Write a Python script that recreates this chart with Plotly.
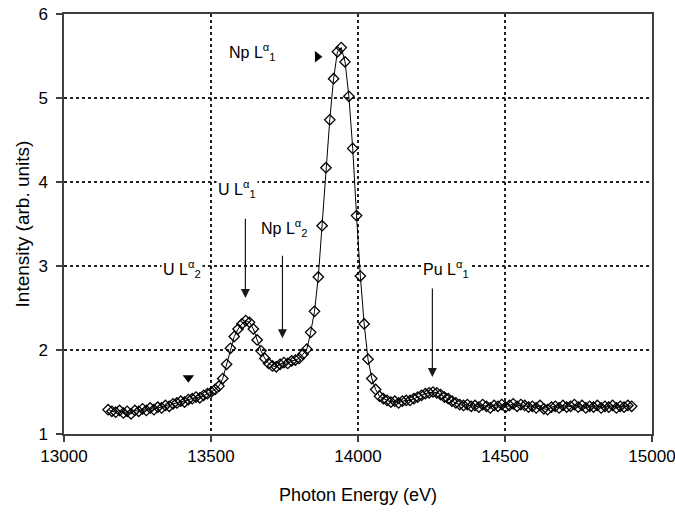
import plotly.graph_objects as go

energy = [13150, 13163, 13176, 13189, 13202, 13215, 13228, 13241, 13254, 13267,
          13280, 13293, 13306, 13319, 13332, 13345, 13358, 13371, 13384, 13397,
          13410, 13423, 13436, 13449, 13462, 13475, 13488, 13501, 13514, 13527,
          13540, 13553, 13566, 13579, 13592, 13605, 13618, 13631, 13644, 13657,
          13670, 13683, 13696, 13709, 13722, 13735, 13748, 13761, 13774, 13787,
          13800, 13813, 13826, 13839, 13852, 13865, 13878, 13891, 13904, 13917,
          13930, 13943, 13956, 13969, 13982, 13995, 14008, 14021, 14034, 14047,
          14060, 14073, 14086, 14099, 14112, 14125, 14138, 14151, 14164, 14177,
          14190, 14203, 14216, 14229, 14242, 14255, 14268, 14281, 14294, 14307,
          14320, 14333, 14346, 14359, 14372, 14385, 14398, 14411, 14424, 14437,
          14450, 14463, 14476, 14489, 14502, 14515, 14528, 14541, 14554, 14567,
          14580, 14593, 14606, 14619, 14632, 14645, 14658, 14671, 14684, 14697,
          14710, 14723, 14736, 14749, 14762, 14775, 14788, 14801, 14814, 14827,
          14840, 14853, 14866, 14879, 14892, 14905, 14918, 14931]

intensity = [1.29, 1.27, 1.26, 1.28, 1.25, 1.27, 1.24, 1.28, 1.27, 1.30,
             1.28, 1.31, 1.29, 1.32, 1.31, 1.34, 1.33, 1.36, 1.37, 1.39,
             1.38, 1.41, 1.42, 1.44, 1.43, 1.46, 1.48, 1.50, 1.53, 1.57,
             1.66, 1.83, 2.02, 2.16, 2.25, 2.31, 2.35, 2.33, 2.25, 2.12,
             1.99, 1.90, 1.84, 1.81, 1.80, 1.83, 1.85, 1.84, 1.87, 1.88,
             1.90, 1.95, 2.01, 2.21, 2.46, 2.87, 3.48, 4.17, 4.74, 5.23,
             5.55, 5.60, 5.43, 5.02, 4.40, 3.60, 2.88, 2.31, 1.89, 1.66,
             1.53, 1.45, 1.42, 1.40, 1.38, 1.39, 1.37, 1.39, 1.40, 1.40,
             1.42, 1.44, 1.46, 1.48, 1.49, 1.50, 1.49, 1.47, 1.44, 1.42,
             1.39, 1.37, 1.35, 1.34, 1.35, 1.33, 1.34, 1.32, 1.35, 1.33,
             1.31, 1.34, 1.33, 1.35, 1.32, 1.34, 1.36, 1.33, 1.35, 1.34,
             1.32, 1.33, 1.31, 1.34, 1.30, 1.29, 1.32, 1.33, 1.31, 1.34,
             1.32, 1.33, 1.35, 1.32, 1.34, 1.31, 1.33, 1.32, 1.34, 1.31,
             1.33, 1.32, 1.34, 1.31, 1.33, 1.32, 1.34, 1.33]

x_ticks = [13000, 13500, 14000, 14500, 15000]
y_ticks = [1, 2, 3, 4, 5, 6]

# Peak labels: text, text position, arrow start / tip (None = no arrow)
label_text = ["Np L<sup>α</sup><sub>1</sub>", "U L<sup>α</sup><sub>1</sub>",
              "Np L<sup>α</sup><sub>2</sub>", "U L<sup>α</sup><sub>2</sub>",
              "Pu L<sup>α</sup><sub>1</sub>"]
label_x = [13640, 13587, 13750, 13400, 14298]
label_y = [5.55, 3.92, 3.45, 2.97, 2.97]
arrow_x = [None, 13617, 13743, None, 14253]
arrow_y0 = [None, 3.58, 3.14, None, 2.75]
arrow_y1 = [None, 2.62, 2.14, None, 1.68]

# Small triangle pointers
tri_x = [13862, 13423]
tri_y = [5.49, 1.67]
tri_symbol = ["triangle-right", "triangle-down"]

FONT = "Liberation Sans, Arial, sans-serif"

fig = go.Figure()
fig.add_trace(go.Scatter(
    x=energy, y=intensity, mode="lines+markers",
    line=dict(color="black", width=1),
    marker=dict(symbol="diamond-open", size=8, color="black", line=dict(width=1.3)),
    showlegend=False, hoverinfo="skip"))

fig.add_trace(go.Scatter(
    x=tri_x, y=tri_y, mode="markers",
    marker=dict(symbol=tri_symbol, size=10, color="black"),
    showlegend=False, hoverinfo="skip"))

annotations = []
for t, lx, ly, axx, y0, y1 in zip(label_text, label_x, label_y, arrow_x, arrow_y0, arrow_y1):
    annotations.append(dict(
        x=lx, y=ly, xref="x", yref="y", text=t, showarrow=False,
        font=dict(family=FONT, size=16, color="black"), bgcolor="white",
        borderpad=1))
    if axx is not None:
        annotations.append(dict(
            x=axx, y=y1, ax=axx, ay=y0, xref="x", yref="y", axref="x", ayref="y",
            text="", showarrow=True, arrowhead=2, arrowsize=1.5, arrowwidth=1.2,
            arrowcolor="#1a1a1a", standoff=0, startstandoff=0))

axis_common = dict(
    showline=True, linecolor="#404040", linewidth=1.5, mirror=True,
    ticks="outside", ticklen=6, tickcolor="#404040", tickwidth=1.5,
    showgrid=True, gridcolor="#222222", gridwidth=1.5, griddash="dot",
    zeroline=False, automargin=False, ticklabeloverflow="allow",
    tickfont=dict(family=FONT, size=17, color="black"))

fig.update_layout(
    width=675, height=514,
    margin=dict(l=64, r=23, t=14, b=80),
    paper_bgcolor="white", plot_bgcolor="white",
    font=dict(family=FONT, color="black"),
    annotations=annotations,
    xaxis=dict(axis_common, range=[13000, 15000], tickvals=x_ticks,
               ticktext=[str(v) for v in x_ticks],
               title=dict(text="Photon Energy (eV)", font=dict(family=FONT, size=18), standoff=23)),
    yaxis=dict(axis_common, range=[1, 6], tickvals=y_ticks, ticklabelstandoff=5,
               title=dict(text="Intensity (arb. units)", font=dict(family=FONT, size=19), standoff=4)),
)

# Remove the default page margin so the figure sits at the window origin
fig.write_html("out.html", config={"displayModeBar": False},
               post_script="document.body.style.margin='0';")
